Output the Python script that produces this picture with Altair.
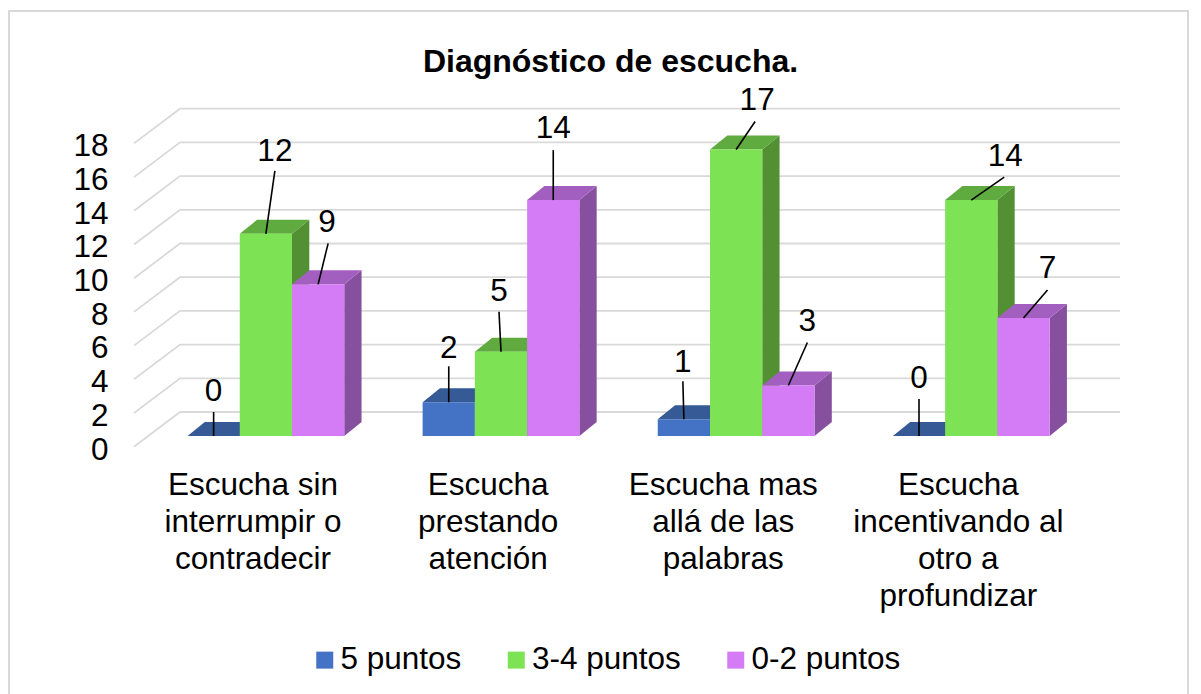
import altair as alt
import pandas as pd

# ---- chart values ----
title_text = "Diagnóstico de escucha."
categories = [
    "Escucha sin\ninterrumpir o\ncontradecir",
    "Escucha\nprestando\natención",
    "Escucha mas\nallá de las\npalabras",
    "Escucha\nincentivando al\notro a\nprofundizar",
]
series_names = ["5 puntos", "3-4 puntos", "0-2 puntos"]
values_5 = [0, 2, 1, 0]
values_34 = [12, 5, 17, 14]
values_02 = [9, 14, 3, 7]
tick_values = [0, 2, 4, 6, 8, 10, 12, 14, 16, 18]

# ---- styles ----
front_colors = ["#4472C4", "#7EE354", "#D47CF5"]
top_colors = ["#355A96", "#5FAB3F", "#A35FC0"]
side_colors = ["#345592", "#529033", "#87509F"]
FONT = "Liberation Sans"
FS = 31.5

# ---- layout: page pixels to scale units ----
W, H = 1185, 686
PX0, PXU = 187.5, 52.25       # x pixel of unit 0, pixels per bar width
PY0, PYU = 436.0, 16.85       # y pixel of value 0, pixels per value
def u(px): return (px - PX0) / PXU
def v(py): return (PY0 - py) / PYU
GROUP_STEP = 4.5
DEPTH_U, DEPTH_V = 17.3 / PXU, 14.0 / PYU

# manually placed data labels, offsets in pixels from the top centre of each bar
label_dx = [[0, 0, -1, 0], [9, -2, 21, 34], [9, 0, 19, 24]]
label_dy = [[-44, -53, -56, -57], [-82, -60, -49, -43], [-61, -71, -63, -49]]
lead_dx = [[0, 0, -1, 0], [9, -2, 19, 33], [10, 0, 19, 24]]
lead_dy = [[-24, -36, -38, -37], [-63, -40, -28, -23], [-41, -50, -43, -28]]

x_scale = alt.Scale(domain=[u(8), u(8 + W)], range=[0, W], nice=False, zero=False)
y_scale = alt.Scale(domain=[v(8 + H), v(8)], range=[H, 0], nice=False, zero=False)

y_axis = alt.Axis(
    values=tick_values, format="d", grid=False, domain=False, ticks=False,
    orient="left", offset=-100, labelPadding=0, labelOffset=14,
    labelFont=FONT, labelFontSize=FS, labelColor="#000000", labelAlign="right",
    labelOverlap=False, labelBound=False, labelFlush=False, title=None,
)

def X(f): return alt.X(f"{f}:Q", scale=x_scale, axis=None, title=None)
def Y(f): return alt.Y(f"{f}:Q", scale=y_scale, axis=y_axis, title=None)
def X2(f): return alt.X2(f"{f}")
def Y2(f): return alt.Y2(f"{f}")

# ---- frame ----
frame = alt.Chart(pd.DataFrame({"a": [0]})).mark_rect(
    fill="transparent", stroke="#D9D9D9", strokeWidth=2
).encode(x=alt.value(1), x2=alt.value(1180), y=alt.value(3), y2=alt.value(720))

# ---- walls ----
grid_rows = []
for t in tick_values:
    grid_rows += [
        {"t": t, "i": 0, "gx": u(134), "gy": t + v(446.7)},
        {"t": t, "i": 1, "gx": u(180), "gy": t + v(412.0)},
        {"t": t, "i": 2, "gx": u(1120), "gy": t + v(412.0)},
    ]
grid = alt.Chart(pd.DataFrame(grid_rows)).mark_line(color="#D9D9D9", strokeWidth=1.8).encode(
    x=X("gx"), y=Y("gy"), detail="t:N", order="i:Q",
)

# ---- bars: side, top, then front, one series after another ----
series_values = [values_5, values_34, values_02]
layers = [frame, grid]
label_rows, lead_rows = [], []
for s, (name, vals) in enumerate(zip(series_names, series_values)):
    fronts, tops, sides = [], [], []
    for g, val in enumerate(vals):
        L = g * GROUP_STEP + s
        R = L + 1
        fronts.append({"series": name, "l": L, "r": R, "v": val, "b": 0})
        tops += [
            {"bar": f"b{g}", "tv": val, "a0": L, "c0": R},
            {"bar": f"b{g}", "tv": val + DEPTH_V, "a0": L + DEPTH_U, "c0": R + DEPTH_U},
        ]
        sides += [
            {"bar": f"b{g}", "sx": R, "st": val, "sb": 0},
            {"bar": f"b{g}", "sx": R + DEPTH_U, "st": val + DEPTH_V, "sb": DEPTH_V},
        ]
        cx = L + 0.5
        label_rows.append({"lx": cx + label_dx[s][g] / PXU, "ly": val - label_dy[s][g] / PYU, "txt": str(val)})
        lead_rows.append({
            "x0": cx, "y0": val,
            "x1": cx + lead_dx[s][g] / PXU, "y1": val - lead_dy[s][g] / PYU,
        })
    side = alt.Chart(pd.DataFrame(sides)).mark_area(
        orient="vertical", fill=side_colors[s], interpolate="linear"
    ).encode(
        x=X("sx"), y=Y("st"), y2=Y2("sb"), detail="bar:N"
    )
    top = alt.Chart(pd.DataFrame(tops)).mark_area(
        orient="horizontal", fill=top_colors[s], interpolate="linear"
    ).encode(
        y=Y("tv"), x=X("a0"), x2=X2("c0"), detail="bar:N"
    )
    front = alt.Chart(pd.DataFrame(fronts)).mark_rect().encode(
        x=X("l"), x2=X2("r"), y=Y("v"), y2=Y2("b"),
        color=alt.Color(
            "series:N",
            scale=alt.Scale(domain=series_names, range=front_colors),
            legend=alt.Legend(
                title=None, orient="none", legendX=301, legendY=636, direction="horizontal",
                symbolType="square", symbolSize=289, symbolStrokeWidth=0, labelOffset=0,
                labelFont=FONT, labelFontSize=FS, labelColor="#000000", columnPadding=38.5,
                padding=0, labelLimit=300,
            ),
        ),
    )
    layers += [side, top, front]

leads = alt.Chart(pd.DataFrame(lead_rows)).mark_rule(color="#000000", strokeWidth=1.6).encode(
    x=X("x0"), y=Y("y0"), x2=X2("x1"), y2=Y2("y1")
)
labels = alt.Chart(pd.DataFrame(label_rows)).mark_text(
    font=FONT, fontSize=FS, color="#000000", align="center", baseline="middle"
).encode(x=X("lx"), y=Y("ly"), text="txt:N")

cat_rows = [
    {"cx": u(253) + g * GROUP_STEP, "cy": v(469.5), "txt": c}
    for g, c in enumerate(categories)
]
cat_labels = alt.Chart(pd.DataFrame(cat_rows)).mark_text(
    font=FONT, fontSize=FS, color="#000000", align="center", baseline="top",
    lineBreak="\n", lineHeight=37,
).encode(x=X("cx"), y=Y("cy"), text="txt:N")

chart = alt.layer(*layers, leads, labels, cat_labels).properties(
    width=W,
    height=H,
    padding=0,
    autosize=alt.AutoSizeParams(type="none"),
    background="#FFFFFF",
    title=alt.TitleParams(
        text=title_text, font=FONT, fontSize=32, fontWeight="bold", color="#000000",
        anchor="middle", dx=10, offset=-71,
    ),
).configure_view(stroke=None)

chart.save("out.html", embed_options={"renderer": "svg", "actions": False})
